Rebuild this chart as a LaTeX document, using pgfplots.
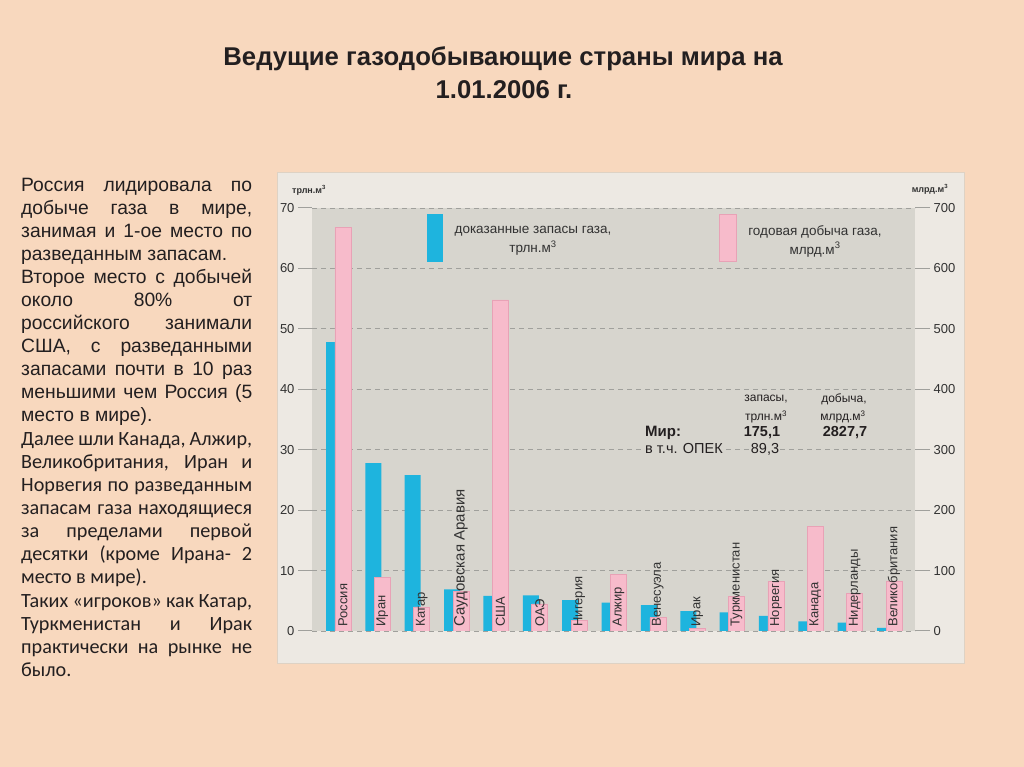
\documentclass[border=0pt]{standalone}
\usepackage{fontspec}
\setmainfont{Liberation Sans}
\newfontfamily\carlito{Carlito}
\usepackage{pgfplots}
\pgfplotsset{compat=1.18}
\usepackage{pgfplotstable}

\definecolor{peach}{RGB}{248,216,190}
\definecolor{boxbg}{RGB}{237,233,227}
\definecolor{boxedge}{RGB}{222,210,196}
\definecolor{plotbg}{RGB}{215,213,206}
\definecolor{gasblue}{RGB}{30,180,222}
\definecolor{gaspink}{RGB}{247,187,203}
\definecolor{pinkedge}{RGB}{232,162,182}
\definecolor{txt}{RGB}{50,50,50}
\definecolor{gridc}{RGB}{160,160,156}
\definecolor{body}{RGB}{35,31,32}

% proven reserves, trln m3 (x = country index)
\pgfplotstableread{
x  val
0  47.8
1  27.8
2  25.8
3  6.9
4  5.8
5  5.9
6  5.1
7  4.7
8  4.3
9  3.3
10 3.1
11 2.5
12 1.6
13 1.4
14 0.5
}\reserves

% annual production, mlrd m3
\pgfplotstableread{
x  val
0  668
1  89
2  40
3  65
4  548
5  45
6  18
7  94
8  22
9  4
10 57
11 82
12 173
13 62
14 83
}\production

\newcommand{\jl}[1]{\makebox[231pt][s]{#1}}

\begin{document}
\begin{tikzpicture}[x=1pt,y=1pt]
\fill[peach] (0,0) rectangle (1024,767);
\useasboundingbox (0,0) rectangle (1024,767);

% title
\node[anchor=base, font=\bfseries\fontsize{25.7}{30}\selectfont, text=body] at (503,701) {Ведущие газодобывающие страны мира на};
\node[anchor=base, font=\bfseries\fontsize{25.7}{30}\selectfont, text=body] at (504,668) {1.01.2006 г.};

% left text
\begin{scope}[every node/.style={anchor=base west, inner sep=0, text=body}]
\begin{scope}[font=\fontsize{19.3}{23}\selectfont]
\node at (21,575) {\jl{Россия лидировала по}};
\node at (21,552) {\jl{добыче газа в мире,}};
\node at (21,529) {\jl{занимая и 1-ое место по}};
\node at (21,506) {разведанным запасам.};
\node at (21,483) {\jl{Второе место с добычей}};
\node at (21,460) {\jl{около 80\% от}};
\node at (21,437) {\jl{российского занимали}};
\node at (21,414) {\jl{США, с разведанными}};
\node at (21,391) {\jl{запасами почти в 10 раз}};
\node at (21,368) {\jl{меньшими чем Россия (5}};
\node at (21,345) {место в мире).};
\end{scope}
\begin{scope}[font=\carlito\fontsize{20.2}{23}\selectfont]
\node at (21,321) {\jl{Далее шли Канада, Алжир,}};
\node at (21,298) {\jl{Великобритания, Иран и}};
\node at (21,275) {\jl{Норвегия по разведанным}};
\node at (21,252) {\jl{запасам газа  находящиеся}};
\node at (21,229) {\jl{за пределами первой}};
\node at (21,206) {\jl{десятки (кроме Ирана- 2}};
\node at (21,183) {место в мире).};
\node at (21,159) {\jl{Таких «игроков» как Катар,}};
\node at (21,136) {\jl{Туркменистан и Ирак}};
\node at (21,113) {\jl{практически на рынке не}};
\node at (21,90) {было.};
\end{scope}
\end{scope}

% chart panel
\filldraw[fill=boxbg, draw=boxedge] (277,104) rectangle (964,595);

\begin{axis}[
  at={(312pt,136pt)}, anchor=south west,
  width=603pt, height=423pt, scale only axis,
  xmin=-0.673, xmax=14.647, ymin=0, ymax=70,
  axis y line*=left, axis x line=none,
  axis line style={draw=none},
  axis background/.style={fill=plotbg},
  xtick=\empty,
  ytick={0,10,...,70},
  ymajorgrids,
  major grid style={gridc, dash pattern=on 5pt off 4pt, line width=0.8pt},
  tick align=outside, major tick length=14pt,
  ytick style={gridc, line width=1pt},
  /pgf/number format/assume math mode=true,
  yticklabel style={font=\fontsize{13}{13}\selectfont, text=txt},
]
\addplot[ybar, bar width=0.4065, bar shift=-0.114, fill=gasblue, draw=none]
  table[x=x, y=val] {\reserves};
\end{axis}

\begin{axis}[
  at={(312pt,136pt)}, anchor=south west,
  width=603pt, height=423pt, scale only axis,
  xmin=-0.673, xmax=14.647, ymin=0, ymax=700,
  axis y line*=right, axis x line=none,
  axis line style={draw=none},
  xtick=\empty,
  ytick={0,100,...,700},
  tick align=outside, major tick length=15pt,
  ytick style={gridc, line width=1pt},
  /pgf/number format/assume math mode=true,
  yticklabel style={font=\fontsize{13}{13}\selectfont, text=txt},
]
\addplot[ybar, bar width=0.4065, bar shift=0.114, fill=gaspink, draw=pinkedge, line width=0.6pt]
  table[x=x, y=val] {\production};
\begin{scope}[every node/.style={rotate=90, anchor=west, inner sep=0, text=txt, font=\fontsize{13}{13}\selectfont}]
\node at (axis cs:0.114,7) {Россия};
\node at (axis cs:1.114,7) {Иран};
\node at (axis cs:2.114,7) {Катар};
\node[font=\fontsize{15}{15}\selectfont] at (axis cs:3.114,7) {Саудовская Аравия};
\node at (axis cs:4.114,7) {США};
\node at (axis cs:5.114,7) {ОАЭ};
\node at (axis cs:6.114,7) {Нигерия};
\node at (axis cs:7.114,7) {Алжир};
\node at (axis cs:8.114,7) {Венесуэла};
\node at (axis cs:9.114,7) {Ирак};
\node at (axis cs:10.114,7) {Туркменистан};
\node at (axis cs:11.114,7) {Норвегия};
\node at (axis cs:12.114,7) {Канада};
\node at (axis cs:13.114,7) {Нидерланды};
\node at (axis cs:14.114,7) {Великобритания};
\end{scope}
\end{axis}

% axis units
\node[font=\bfseries\fontsize{9}{9}\selectfont, text=txt] at (309,577) {трлн.м\textsuperscript{3}};
\node[font=\bfseries\fontsize{9}{9}\selectfont, text=txt] at (930,578) {млрд.м\textsuperscript{3}};

% legend
\fill[gasblue] (427,505) rectangle (443,553);
\filldraw[fill=gaspink, draw=pinkedge] (719,506) rectangle (736,553);
\node[align=center, font=\fontsize{13.5}{19}\selectfont, text=txt] at (533,526) {доказанные запасы газа,\\трлн.м\textsuperscript{3}};
\node[align=center, font=\fontsize{13.5}{19}\selectfont, text=txt] at (815,526) {годовая добыча газа,\\млрд.м\textsuperscript{3}};

% world totals
\begin{scope}[every node/.style={inner sep=1pt, text=body}]
\node[font=\fontsize{12}{12}\selectfont] at (766,368) {запасы,};
\node[font=\fontsize{12}{12}\selectfont] at (766,350) {трлн.м\textsuperscript{3}};
\node[font=\fontsize{12}{12}\selectfont] at (844,368) {добыча,};
\node[font=\fontsize{12}{12}\selectfont] at (843,350) {млрд.м\textsuperscript{3}};
\node[anchor=west, font=\bfseries\fontsize{15}{15}\selectfont] at (644,334) {Мир:};
\node[font=\bfseries\fontsize{14.5}{14.5}\selectfont] at (762,334) {175,1};
\node[font=\bfseries\fontsize{14.5}{14.5}\selectfont] at (845,334) {2827,7};
\node[anchor=west, fill=plotbg, font=\fontsize{14.5}{14.5}\selectfont] at (644,318) {в т.ч. ОПЕК};
\node[fill=plotbg, font=\fontsize{14.5}{14.5}\selectfont] at (765,318) {89,3};
\end{scope}
\end{tikzpicture}
\end{document}
